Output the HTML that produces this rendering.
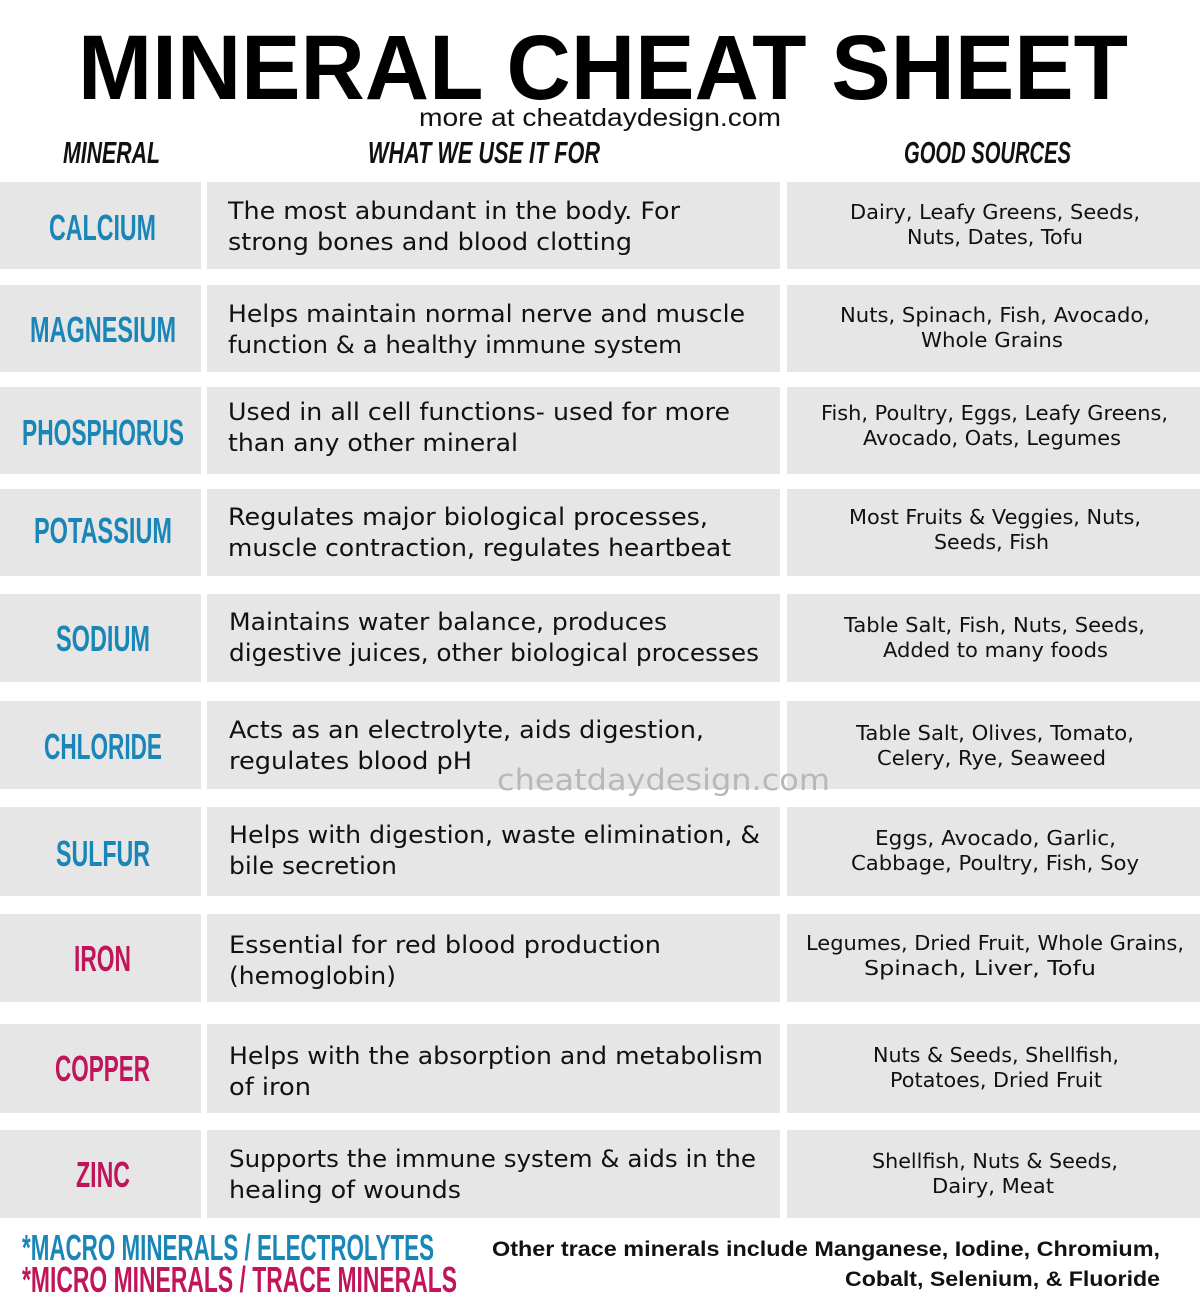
<!DOCTYPE html>
<html><head><meta charset="utf-8"><style>
html,body{margin:0;padding:0;background:#fff;}
svg{display:block;}
.t{font-family:"Liberation Sans",sans-serif;font-weight:bold;}
.d{font-family:"DejaVu Sans","Liberation Sans",sans-serif;font-size:24px;fill:#111;}
.s{font-family:"DejaVu Sans","Liberation Sans",sans-serif;font-size:20px;fill:#111;}
.n{font-family:"Liberation Sans",sans-serif;font-weight:bold;font-size:36px;}
.h{font-family:"Liberation Sans",sans-serif;font-weight:bold;font-style:italic;font-size:31px;fill:#111;}
</style></head><body>
<svg width="1200" height="1310" viewBox="0 0 1200 1310" xmlns="http://www.w3.org/2000/svg">
<rect width="1200" height="1310" fill="#fff"/>
<text class="t" x="78" y="99" font-size="92" textLength="1050" lengthAdjust="spacingAndGlyphs" fill="#000">MINERAL CHEAT SHEET</text>
<text x="419" y="126" font-family="Liberation Sans,sans-serif" font-size="25" textLength="362" lengthAdjust="spacingAndGlyphs" fill="#111">more at cheatdaydesign.com</text>
<text class="h" x="63" y="163" textLength="97" lengthAdjust="spacingAndGlyphs">MINERAL</text>
<text class="h" x="368" y="163" textLength="232" lengthAdjust="spacingAndGlyphs">WHAT WE USE IT FOR</text>
<text class="h" x="904" y="163" textLength="167" lengthAdjust="spacingAndGlyphs">GOOD SOURCES</text>
<g id="rows"></g>
<g fill="#e6e6e6">
<rect x="0" y="182" width="201" height="87"/><rect x="207" y="182" width="573" height="87"/><rect x="787" y="182" width="413" height="87"/>
<rect x="0" y="285" width="201" height="87"/><rect x="207" y="285" width="573" height="87"/><rect x="787" y="285" width="413" height="87"/>
<rect x="0" y="387" width="201" height="87"/><rect x="207" y="387" width="573" height="87"/><rect x="787" y="387" width="413" height="87"/>
<rect x="0" y="489" width="201" height="87"/><rect x="207" y="489" width="573" height="87"/><rect x="787" y="489" width="413" height="87"/>
<rect x="0" y="594" width="201" height="88"/><rect x="207" y="594" width="573" height="88"/><rect x="787" y="594" width="413" height="88"/>
<rect x="0" y="701" width="201" height="88"/><rect x="207" y="701" width="573" height="88"/><rect x="787" y="701" width="413" height="88"/>
<rect x="0" y="807" width="201" height="89"/><rect x="207" y="807" width="573" height="89"/><rect x="787" y="807" width="413" height="89"/>
<rect x="0" y="914" width="201" height="88"/><rect x="207" y="914" width="573" height="88"/><rect x="787" y="914" width="413" height="88"/>
<rect x="0" y="1024" width="201" height="89"/><rect x="207" y="1024" width="573" height="89"/><rect x="787" y="1024" width="413" height="89"/>
<rect x="0" y="1130" width="201" height="88"/><rect x="207" y="1130" width="573" height="88"/><rect x="787" y="1130" width="413" height="88"/>
</g>
<g class="n" fill="#1a86b8">
<text class="n" x="49" y="240" textLength="107" lengthAdjust="spacingAndGlyphs">CALCIUM</text>
<text class="n" x="30" y="342" textLength="146" lengthAdjust="spacingAndGlyphs">MAGNESIUM</text>
<text class="n" x="22" y="445" textLength="162" lengthAdjust="spacingAndGlyphs">PHOSPHORUS</text>
<text class="n" x="34" y="543" textLength="138" lengthAdjust="spacingAndGlyphs">POTASSIUM</text>
<text class="n" x="56" y="651" textLength="94" lengthAdjust="spacingAndGlyphs">SODIUM</text>
<text class="n" x="44" y="759" textLength="118" lengthAdjust="spacingAndGlyphs">CHLORIDE</text>
<text class="n" x="56" y="866" textLength="94" lengthAdjust="spacingAndGlyphs">SULFUR</text>
</g>
<g fill="#c0155a">
<text class="n" x="74" y="971" textLength="57" lengthAdjust="spacingAndGlyphs">IRON</text>
<text class="n" x="55" y="1081" textLength="95" lengthAdjust="spacingAndGlyphs">COPPER</text>
<text class="n" x="76" y="1187" textLength="54" lengthAdjust="spacingAndGlyphs">ZINC</text>
</g>
<g>
<text class="d" x="228" y="219" textLength="452" lengthAdjust="spacingAndGlyphs">The most abundant in the body. For</text>
<text class="d" x="228" y="250" textLength="404" lengthAdjust="spacingAndGlyphs">strong bones and blood clotting</text>
<text class="d" x="228" y="322" textLength="517" lengthAdjust="spacingAndGlyphs">Helps maintain normal nerve and muscle</text>
<text class="d" x="228" y="353" textLength="454" lengthAdjust="spacingAndGlyphs">function &amp; a healthy immune system</text>
<text class="d" x="228" y="420" textLength="502" lengthAdjust="spacingAndGlyphs">Used in all cell functions- used for more</text>
<text class="d" x="228" y="451" textLength="290" lengthAdjust="spacingAndGlyphs">than any other mineral</text>
<text class="d" x="228" y="525" textLength="480" lengthAdjust="spacingAndGlyphs">Regulates major biological processes,</text>
<text class="d" x="228" y="556" textLength="503" lengthAdjust="spacingAndGlyphs">muscle contraction, regulates heartbeat</text>
<text class="d" x="229" y="630" textLength="438" lengthAdjust="spacingAndGlyphs">Maintains water balance, produces</text>
<text class="d" x="229" y="661" textLength="530" lengthAdjust="spacingAndGlyphs">digestive juices, other biological processes</text>
<text class="d" x="229" y="738" textLength="475" lengthAdjust="spacingAndGlyphs">Acts as an electrolyte, aids digestion,</text>
<text class="d" x="229" y="769" textLength="243" lengthAdjust="spacingAndGlyphs">regulates blood pH</text>
<text class="d" x="229" y="843" textLength="531" lengthAdjust="spacingAndGlyphs">Helps with digestion, waste elimination, &amp;</text>
<text class="d" x="229" y="874" textLength="168" lengthAdjust="spacingAndGlyphs">bile secretion</text>
<text class="d" x="229" y="953" textLength="432" lengthAdjust="spacingAndGlyphs">Essential for red blood production</text>
<text class="d" x="229" y="984" textLength="167" lengthAdjust="spacingAndGlyphs">(hemoglobin)</text>
<text class="d" x="229" y="1064" textLength="534" lengthAdjust="spacingAndGlyphs">Helps with the absorption and metabolism</text>
<text class="d" x="229" y="1095" textLength="82" lengthAdjust="spacingAndGlyphs">of iron</text>
<text class="d" x="229" y="1167" textLength="527" lengthAdjust="spacingAndGlyphs">Supports the immune system &amp; aids in the</text>
<text class="d" x="229" y="1198" textLength="232" lengthAdjust="spacingAndGlyphs">healing of wounds</text>
</g>
<g>
<text class="s" x="850" y="219" textLength="290" lengthAdjust="spacingAndGlyphs">Dairy, Leafy Greens, Seeds,</text>
<text class="s" x="907" y="244" textLength="176" lengthAdjust="spacingAndGlyphs">Nuts, Dates, Tofu</text>
<text class="s" x="840" y="322" textLength="310" lengthAdjust="spacingAndGlyphs">Nuts, Spinach, Fish, Avocado,</text>
<text class="s" x="921" y="347" textLength="142" lengthAdjust="spacingAndGlyphs">Whole Grains</text>
<text class="s" x="821" y="420" textLength="347" lengthAdjust="spacingAndGlyphs">Fish, Poultry, Eggs, Leafy Greens,</text>
<text class="s" x="863" y="445" textLength="258" lengthAdjust="spacingAndGlyphs">Avocado, Oats, Legumes</text>
<text class="s" x="849" y="524" textLength="292" lengthAdjust="spacingAndGlyphs">Most Fruits &amp; Veggies, Nuts,</text>
<text class="s" x="934" y="549" textLength="115" lengthAdjust="spacingAndGlyphs">Seeds, Fish</text>
<text class="s" x="844" y="632" textLength="301" lengthAdjust="spacingAndGlyphs">Table Salt, Fish, Nuts, Seeds,</text>
<text class="s" x="883" y="657" textLength="225" lengthAdjust="spacingAndGlyphs">Added to many foods</text>
<text class="s" x="856" y="740" textLength="278" lengthAdjust="spacingAndGlyphs">Table Salt, Olives, Tomato,</text>
<text class="s" x="877" y="765" textLength="229" lengthAdjust="spacingAndGlyphs">Celery, Rye, Seaweed</text>
<text class="s" x="875" y="845" textLength="241" lengthAdjust="spacingAndGlyphs">Eggs, Avocado, Garlic,</text>
<text class="s" x="851" y="870" textLength="288" lengthAdjust="spacingAndGlyphs">Cabbage, Poultry, Fish, Soy</text>
<text class="s" x="806" y="950" textLength="378" lengthAdjust="spacingAndGlyphs">Legumes, Dried Fruit, Whole Grains,</text>
<text class="s" x="864" y="975" textLength="232" lengthAdjust="spacingAndGlyphs">Spinach, Liver, Tofu</text>
<text class="s" x="873" y="1062" textLength="246" lengthAdjust="spacingAndGlyphs">Nuts &amp; Seeds, Shellfish,</text>
<text class="s" x="890" y="1087" textLength="212" lengthAdjust="spacingAndGlyphs">Potatoes, Dried Fruit</text>
<text class="s" x="872" y="1168" textLength="246" lengthAdjust="spacingAndGlyphs">Shellfish, Nuts &amp; Seeds,</text>
<text class="s" x="932" y="1193" textLength="122" lengthAdjust="spacingAndGlyphs">Dairy, Meat</text>
</g>
<text x="497" y="790" font-family="DejaVu Sans,sans-serif" font-size="29" fill="#b8b8b8" textLength="333" lengthAdjust="spacingAndGlyphs">cheatdaydesign.com</text>
<text class="n" x="22" y="1260" font-size="31" fill="#1a86b8" textLength="412" lengthAdjust="spacingAndGlyphs">*MACRO MINERALS / ELECTROLYTES</text>
<text class="n" x="22" y="1292" font-size="31" fill="#c0155a" textLength="435" lengthAdjust="spacingAndGlyphs">*MICRO MINERALS / TRACE MINERALS</text>
<text x="492" y="1256" font-family="Liberation Sans,sans-serif" font-weight="bold" font-size="21" fill="#111" textLength="668" lengthAdjust="spacingAndGlyphs">Other trace minerals include Manganese, Iodine, Chromium,</text>
<text x="845" y="1286" font-family="Liberation Sans,sans-serif" font-weight="bold" font-size="21" fill="#111" textLength="315" lengthAdjust="spacingAndGlyphs">Cobalt, Selenium, &amp; Fluoride</text>
</svg>
</body></html>
